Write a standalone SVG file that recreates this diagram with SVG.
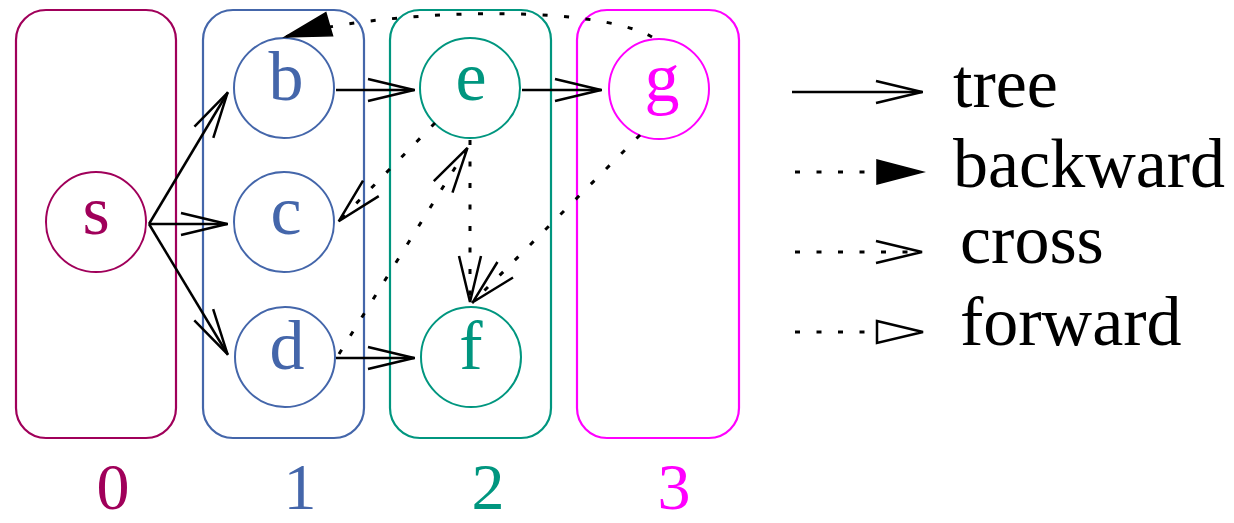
<svg xmlns="http://www.w3.org/2000/svg" width="1234" height="523" viewBox="0 0 1234 523">
  <style>
    .lvl { fill: none; stroke-width: 2.2; }
    .node { fill: none; stroke-width: 2; }
    .lbl { font-family: "Liberation Serif", "Times New Roman", serif; font-size: 70px; text-anchor: middle; }
    .num { font-family: "Liberation Serif", "Times New Roman", serif; font-size: 66px; text-anchor: middle; }
    .leg { font-family: "Liberation Serif", "Times New Roman", serif; font-size: 70px; fill: #000; }
    .c0 { stroke: #a0005a; } .t0 { fill: #a0005a; }
    .c1 { stroke: #4466aa; } .t1 { fill: #4466aa; }
    .c2 { stroke: #00967f; } .t2 { fill: #00967f; }
    .c3 { stroke: #ff00ff; } .t3 { fill: #ff00ff; }
    .tree { fill: none; stroke: #000; stroke-width: 2.5; marker-end: url(#open); }
    .dot { fill: none; stroke: #000; stroke-width: 3; stroke-dasharray: 5 16.5; }
    .cross { marker-end: url(#open); }
    .back { marker-end: url(#filled); }
    .fwd { marker-end: url(#hollow); }
  </style>
  <defs>
    <!-- open two-line arrowhead (tree and cross edges) -->
    <marker id="open" markerUnits="userSpaceOnUse" markerWidth="70" markerHeight="40" refX="51" refY="15" orient="auto" overflow="visible">
      <path d="M4,4 L50,15 L4,26" fill="none" stroke="#000" stroke-width="2.5" stroke-dasharray="none"/>
    </marker>
    <!-- solid triangle (backward edges) -->
    <marker id="filled" markerUnits="userSpaceOnUse" markerWidth="70" markerHeight="40" refX="50" refY="15" orient="auto" overflow="visible">
      <path d="M4,3 L50,15 L4,27 Z" fill="#000" stroke="#000" stroke-width="1.5" stroke-dasharray="none"/>
    </marker>
    <!-- hollow triangle (forward edges) -->
    <marker id="hollow" markerUnits="userSpaceOnUse" markerWidth="70" markerHeight="40" refX="50" refY="15" orient="auto" overflow="visible">
      <path d="M4,4 L50,15 L4,26 Z" fill="#fff" stroke="#000" stroke-width="2.5" stroke-dasharray="none"/>
    </marker>
  </defs>

  <!-- BFS levels -->
  <g id="levels">
    <rect id="level-0" class="lvl c0" x="16" y="10" width="160" height="428" rx="30"/>
    <rect id="level-1" class="lvl c1" x="203" y="10" width="161" height="428" rx="30"/>
    <rect id="level-2" class="lvl c2" x="390" y="10" width="161" height="428" rx="30"/>
    <rect id="level-3" class="lvl c3" x="577" y="10" width="162" height="428" rx="30"/>
  </g>

  <!-- level numbers -->
  <g id="level-labels">
    <text class="num t0" x="113" y="509">0</text>
    <text class="num t1" x="300" y="509">1</text>
    <text class="num t2" x="488" y="509">2</text>
    <text class="num t3" x="674" y="509">3</text>
  </g>

  <!-- vertices -->
  <g id="node-s"><circle class="node c0" cx="96" cy="222" r="50"/><text class="lbl t0" x="96" y="234">s</text></g>
  <g id="node-b"><circle class="node c1" cx="284" cy="88" r="50"/><text class="lbl t1" x="286" y="100">b</text></g>
  <g id="node-c"><circle class="node c1" cx="284" cy="222" r="50"/><text class="lbl t1" x="286" y="234">c</text></g>
  <g id="node-d"><circle class="node c1" cx="285" cy="357" r="50"/><text class="lbl t1" x="287" y="369">d</text></g>
  <g id="node-e"><circle class="node c2" cx="470" cy="88" r="50"/><text class="lbl t2" x="471" y="100">e</text></g>
  <g id="node-f"><circle class="node c2" cx="471" cy="357" r="50"/><text class="lbl t2" x="471" y="369">f</text></g>
  <g id="node-g"><circle class="node c3" cx="659" cy="89" r="50"/><text class="lbl t3" x="662" y="101">g</text></g>

  <!-- edges -->
  <g id="edges">
    <!-- tree edges -->
    <path class="tree" d="M149,224 L228,92"/>
    <path class="tree" d="M149,224 L228,224"/>
    <path class="tree" d="M149,224 L228,355"/>
    <path class="tree" d="M336,90 L415,90"/>
    <path class="tree" d="M522,90 L602,90"/>
    <path class="tree" d="M336,358 L415,358"/>
    <!-- cross edges -->
    <path class="dot cross" d="M435,123 L338,222"/>
    <path class="dot cross" d="M470,140 L470,303"/>
    <path class="dot cross" d="M640,135 L472,303"/>
    <path class="dot cross" d="M339,354 L468,147"/>
    <!-- backward edge g to b -->
    <path class="dot back" d="M652,37 C590,2 378,10 285,37"/>
  </g>

  <!-- legend -->
  <g id="legend">
    <path class="tree" d="M792,92 L923,92"/>
    <text class="leg" x="953" y="107">tree</text>
    <path class="dot back" d="M795,172 L923,172"/>
    <text class="leg" x="953" y="187">backward</text>
    <path class="dot cross" d="M795,252 L923,252"/>
    <text class="leg" x="960" y="263">cross</text>
    <path class="dot fwd" d="M795,332 L923,332"/>
    <text class="leg" x="960" y="345">forward</text>
  </g>
</svg>
